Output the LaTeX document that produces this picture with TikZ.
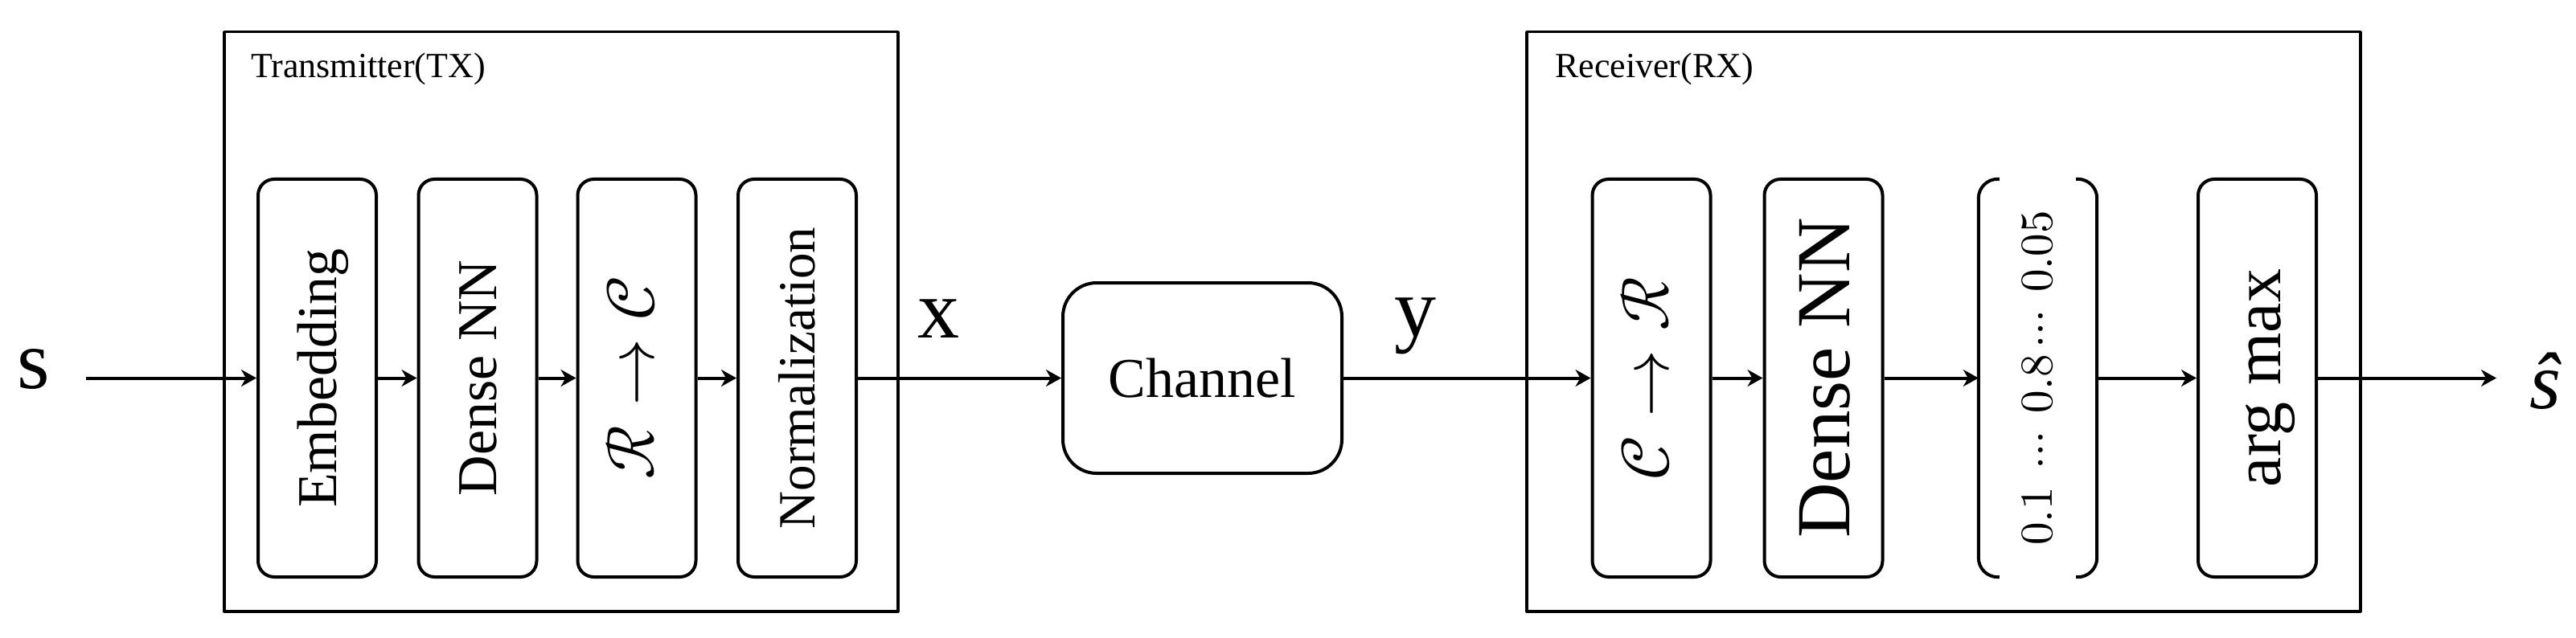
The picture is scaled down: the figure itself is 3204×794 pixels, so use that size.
\documentclass[tikz,border=0pt]{standalone}
\usepackage{fontspec}
\usepackage{unicode-math}
\setmainfont{Liberation Serif}
\setmathfont{Latin Modern Math}
\usetikzlibrary{arrows.meta}
\begin{document}
\begin{tikzpicture}[x=1pt,y=-1pt,line join=round,
  frame/.style={draw,line width=3.5pt,inner sep=0pt,anchor=north west},
  blk/.style={draw,line width=4pt,rounded corners=20pt,minimum width=495pt,minimum height=147pt,inner sep=0pt,rotate=90},
  arr/.style={line width=4pt,-{Stealth[length=19pt,width=21pt,inset=6pt]}},
  fs/.style={font=\fontsize{#1}{#1}\selectfont},
  lbl/.style={anchor=base,inner sep=0pt}]
\useasboundingbox (0,0) rectangle (3204,794);
% frames
\node[frame,minimum width=838pt,minimum height=721pt] (tx) at (277,38) {};
\node[frame,minimum width=1037pt,minimum height=721pt] (rx) at (1897,38) {};
\node[anchor=base west,inner sep=0pt,fs=44] (txl) at (312,97) {Transmitter(TX)};
\node[anchor=base west,inner sep=0pt,fs=44] (rxl) at (1934,97) {Receiver(RX)};
% TX blocks
\node[blk,fs=70,text height=62pt,text depth=15pt] (emb) at (394.5,470.5) {Embedding};
\node[blk,fs=70,text height=62pt,text depth=15pt] (dnn1) at (594,470.5) {Dense NN};
\node[blk,fs=84,text height=62pt,text depth=20pt] (r2c) at (792,470.5) {$\mathcal{R}\rightarrow\mathcal{C}$};
\node[blk,fs=65,text height=58pt,text depth=14pt] (norm) at (991.5,470.5) {Normalization};
% channel
\node[draw,line width=4pt,rounded corners=42pt,minimum width=347pt,minimum height=237pt,inner sep=0pt,fs=70,text height=62pt,text depth=15pt] (ch) at (1495.5,470.5) {Channel};
% RX blocks
\node[blk,fs=84,text height=62pt,text depth=20pt] (c2r) at (2054,470.5) {$\mathcal{C}\rightarrow\mathcal{R}$};
\node[blk,fs=95,text height=85pt,text depth=21pt] (dnn2) at (2268,470.5) {Dense NN};
\node[minimum width=147pt,minimum height=495pt,inner sep=0pt] (prob) at (2534.5,470.5) {};
\node[rotate=90,inner sep=0pt,fs=57] (probt) at (prob.center) {$0.1\ \cdots\ 0.8\cdots\ 0.05$};
\draw[line width=4pt,rounded corners=24pt] ([xshift=26pt]prob.north west) -- (prob.north west) -- (prob.south west) -- ([xshift=26pt]prob.south west);
\draw[line width=4pt,rounded corners=24pt] ([xshift=-26pt]prob.north east) -- (prob.north east) -- (prob.south east) -- ([xshift=-26pt]prob.south east);
\node[blk,fs=84,text height=75pt,text depth=18pt] (amax) at (2807.5,470.5) {arg max};
% signal labels
\node[lbl,fs=104] (s) at (42,483) {s};
\node[lbl,fs=104] (xl) at (1167,420) {x};
\node[lbl,fs=104] (yl) at (1760,418) {y};
\node[lbl,fs=100] (sh) at (3166,508) {\textit{ŝ}};
\coordinate (sin) at (107,470.5);
\coordinate (sout) at (3105,470.5);
% connectors
\draw[arr] (sin) -- (emb);
\draw[arr] (emb) -- (dnn1);
\draw[arr] (dnn1) -- (r2c);
\draw[arr] (r2c) -- (norm);
\draw[arr] (norm) -- (ch);
\draw[arr] (ch) -- (c2r);
\draw[arr] (c2r) -- (dnn2);
\draw[arr] (dnn2) -- (prob);
\draw[arr] (prob) -- (amax);
\draw[arr] (amax) -- (sout);
\end{tikzpicture}
\end{document}
